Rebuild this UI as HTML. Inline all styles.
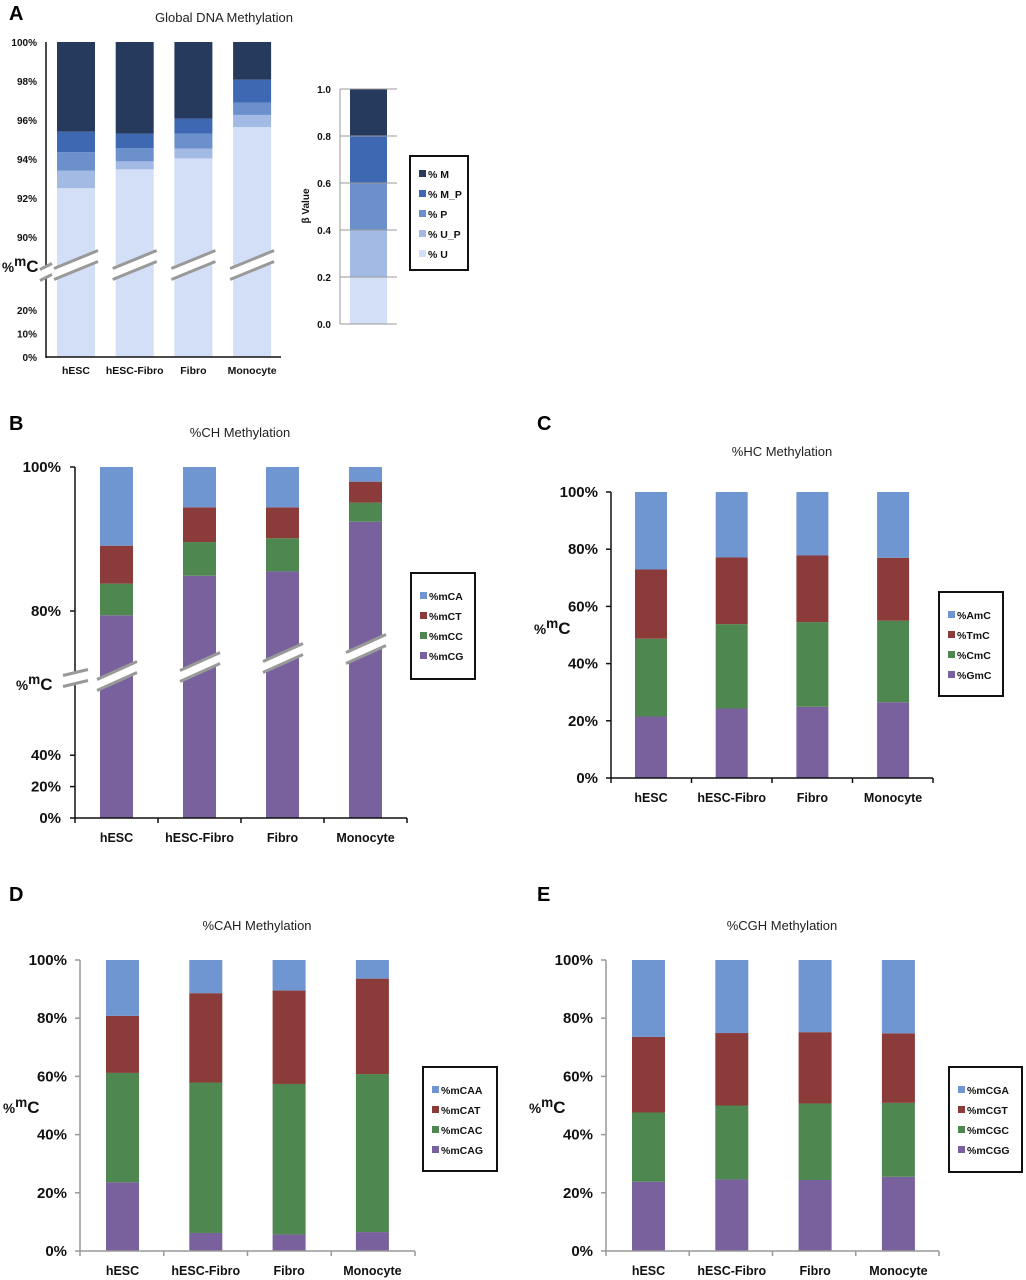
<!DOCTYPE html>
<html><head><meta charset="utf-8"><style>
html,body{margin:0;padding:0;background:#fff;}
svg{display:block;font-family:"Liberation Sans",Arial,sans-serif;}
</style></head><body>
<svg id="fig" width="1026" height="1280" viewBox="0 0 1026 1280" xmlns="http://www.w3.org/2000/svg"></svg>
<script>
const categories = ["hESC","hESC-Fibro","Fibro","Monocyte"];
// Panel A segments (bottom-up)
const aU  = [92.5, 93.47, 94.03, 95.64];
const aUP = [0.9, 0.41, 0.5, 0.62];
const aP  = [0.95, 0.68, 0.77, 0.64];
const aMP = [1.05, 0.74, 0.77, 1.17];
const aM  = [4.6, 4.7, 3.93, 1.93];
const aTicksUpper = [100,98,96,94,92,90];
const aTicksLower = [20,10,0];
const betaSegs = [0.2,0.2,0.2,0.2,0.2];
const betaTicks = [0,0.2,0.4,0.6,0.8,1.0];
// Panel B
const bCG = [79.4, 84.9, 85.5, 92.4];
const bCC = [4.4, 4.68, 4.6, 2.65];
const bCT = [5.27, 4.82, 4.3, 2.91];
const bCA = [10.93, 5.6, 5.6, 2.04];
const bTicksUpper = [100,80];
const bTicksLower = [40,20,0];
// Panel C
const cGmC = [21.5, 24.3, 24.9, 26.5];
const cCmC = [27.2, 29.5, 29.6, 28.5];
const cTmC = [24.2, 23.3, 23.3, 22.0];
const cAmC = [27.1, 22.9, 22.2, 23.0];
// Panel D
const dCAG = [23.6, 6.2, 5.7, 6.5];
const dCAC = [37.6, 51.7, 51.7, 54.3];
const dCAT = [19.6, 30.7, 32.1, 32.8];
const dCAA = [19.2, 11.4, 10.5, 6.4];
// Panel E
const eCGG = [23.8, 24.6, 24.4, 25.5];
const eCGC = [23.8, 25.4, 26.3, 25.4];
const eCGT = [26.0, 24.9, 24.5, 23.9];
const eCGA = [26.4, 25.1, 24.8, 25.2];
const pctTicks = [0,20,40,60,80,100];

const NS="http://www.w3.org/2000/svg";
const svg=document.getElementById('fig');
function mk(tag,attrs,parent){const e=document.createElementNS(NS,tag);for(const k in attrs)e.setAttribute(k,attrs[k]);(parent||svg).appendChild(e);return e;}
function txt(s,attrs,parent){const e=mk('text',attrs,parent);e.textContent=s;return e;}

const COL={blue:"#6f96d0",red:"#8b3b3a",green:"#4f8750",purple:"#78619d",
 M:"#263a5e",MP:"#3e68b1",P:"#6b90cc",UP:"#a3bae5",U:"#d3dff6"};

function drawStack(g,series,colors,names,yf,barX,w){
  for(let i=0;i<categories.length;i++){
    let cum=0;
    for(let s=0;s<series.length;s++){
      const v=series[s][i];
      const y1=yf(cum+v), y0=yf(cum);
      const r=mk('rect',{x:barX(i),y:y1,width:w,height:Math.max(0,y0-y1),fill:colors[s]},g);
      
      
      cum+=v;
    }
  }
}
function yLabel(g,x,y,size){
  const t=mk('text',{x:x,y:y,'font-size':size,'font-weight':'bold',fill:'#111'},g);
  
  
  const a=mk('tspan',{'font-size':size*0.8},t);a.textContent='%';
  const b=mk('tspan',{'font-size':size*0.8,dy:-size*0.35},t);b.textContent='m';
  const c=mk('tspan',{dy:size*0.35},t);c.textContent='C';
}
function legend(g,x,y,w,h,labels,colors,ys,fs){
  const r=mk('rect',{x:x,y:y,width:w,height:h,fill:'#fff',stroke:'#111','stroke-width':2},g);
  
  
  labels.forEach((l,k)=>{
    const sq=mk('rect',{x:x+9,y:ys[k]-4,width:7,height:7,fill:colors[k]},g);
    
    
    const t=txt(l,{x:x+18,y:ys[k]+4,'font-size':fs,'font-weight':'bold',fill:'#111'},g);
    
    
  });
}
function catLabels(g,barX,w,y,fs){
  categories.forEach((c,i)=>{
    const t=txt(c,{x:barX(i)+w/2,y:y,'font-size':fs,'font-weight':'bold','text-anchor':'middle',fill:'#111'},g);
    
    
  });
}
function breakMark(g,x1,x2,yc,slope){
  const d=5.5;
  mk('polygon',{points:`${x1},${yc+slope/2-d} ${x2},${yc-slope/2-d} ${x2},${yc-slope/2+d} ${x1},${yc+slope/2+d}`,fill:'#fff'},g);
  mk('line',{x1:x1,y1:yc+slope/2-d,x2:x2,y2:yc-slope/2-d,stroke:'#999','stroke-width':3},g);
  const l=mk('line',{x1:x1,y1:yc+slope/2+d,x2:x2,y2:yc-slope/2+d,stroke:'#999','stroke-width':3},g);
  
  
}
function panelTitle(g,letter,lx,ly,title,tx,ty){
  const L=txt(letter,{x:lx,y:ly,'font-size':20,'font-weight':'bold',fill:'#000'},g);
  
  
  const T=txt(title,{x:tx,y:ty,'font-size':13,'text-anchor':'middle',fill:'#222'},g);
  
  
}

// ---------- Panel A ----------
(function(){
  const g=mk('g',{});
  
  
  panelTitle(g,'A',9,20,'Global DNA Methylation',224,22);
  const yA=v=> v>=90 ? 42+(100-v)*19.5 : 357-v*2.35;
  const barX=i=>57+i*58.7, w=38;
  drawStack(g,[aU,aUP,aP,aMP,aM],[COL.U,COL.UP,COL.P,COL.MP,COL.M],['u','u-p','p','m-p','m'],yA,barX,w);
  for(let i=0;i<4;i++) breakMark(g,barX(i)-3,barX(i)+w+3,265,18);
  mk('line',{x1:46,y1:42,x2:46,y2:358,stroke:'#111','stroke-width':1.5},g);
  mk('line',{x1:46,y1:357,x2:281,y2:357,stroke:'#111','stroke-width':1.5},g);
  breakMark(g,40,52,272,6);
  aTicksUpper.concat(aTicksLower).forEach(v=>{
    const t=txt(v+'%',{x:37,y:yA(v)+4,'font-size':10,'font-weight':'bold','text-anchor':'end',fill:'#111'},g);
    
    
  });
  yLabel(g,2,272,17);
  catLabels(g,barX,w,374,10.5);
  const yB=v=>324-v*235;
  mk('line',{x1:340,y1:89,x2:340,y2:324,stroke:'#999','stroke-width':1},g);
  let cum=0;const bc=[COL.U,COL.UP,COL.P,COL.MP,COL.M];
  betaSegs.forEach((v,k)=>{
    const r=mk('rect',{x:350,y:yB(cum+v),width:37,height:yB(cum)-yB(cum+v),fill:bc[k]},g);
    
    
    cum+=v;
  });
  betaTicks.forEach(v=>{
    mk('line',{x1:340,y1:yB(v),x2:397,y2:yB(v),stroke:'#999','stroke-width':1},g);
    const t=txt(v.toFixed(1),{x:331,y:yB(v)+4,'font-size':10,'font-weight':'bold','text-anchor':'end',fill:'#111'},g);
    
    
  });
  const bt=txt('β Value',{x:0,y:0,'font-size':10,'font-weight':'bold','text-anchor':'middle',fill:'#111',transform:'translate(309,206) rotate(-90)'},g);
  
  
  legend(g,410,156,58,114,['% M','% M_P','% P','% U_P','% U'],[COL.M,COL.MP,COL.P,COL.UP,COL.U],[174,194,214,234,254],10.5);
})();

// ---------- Panel B ----------
(function(){
  const g=mk('g',{});
  
  
  panelTitle(g,'B',9,430,'%CH Methylation',240,437);
  const yf=v=> v>=70 ? 467+(100-v)*7.2 : 818-v*1.57;
  const barX=i=>100+i*83, w=33;
  drawStack(g,[bCG,bCC,bCT,bCA],[COL.purple,COL.green,COL.red,COL.blue],['mcg','mcc','mct','mca'],yf,barX,w);
  for(let i=0;i<4;i++) breakMark(g,barX(i)-3,barX(i)+w+4,676-i*9,18);
  mk('line',{x1:75,y1:467,x2:75,y2:818,stroke:'#111','stroke-width':1.5},g);
  mk('line',{x1:75,y1:818,x2:407,y2:818,stroke:'#111','stroke-width':1.5},g);
  for(let k=0;k<5;k++) mk('line',{x1:75+k*83,y1:818,x2:75+k*83,y2:823,stroke:'#111','stroke-width':1.5},g);
  bTicksUpper.concat(bTicksLower).forEach(v=>{
    mk('line',{x1:70,y1:yf(v),x2:75,y2:yf(v),stroke:'#111','stroke-width':1.5},g);
    const t=txt(v+'%',{x:61,y:yf(v)+5,'font-size':15,'font-weight':'bold','text-anchor':'end',fill:'#111'},g);
    
    
  });
  breakMark(g,63,88,678,6);
  yLabel(g,16,690,17);
  catLabels(g,barX,w,842,12.5);
  legend(g,411,573,64,106,['%mCA','%mCT','%mCC','%mCG'],[COL.blue,COL.red,COL.green,COL.purple],[596,616,636,656],10.5);
})();

function fullPanel(name,letter,lx,ly,title,tx,ty,axisX,y100,y0,barX0,step,w,axisEnd,axisColor,series,names,labels,lg,labY){
  const g=mk('g',{});
  
  
  panelTitle(g,letter,lx,ly,title,tx,ty);
  const yf=v=>y0-(y0-y100)*v/100;
  const barX=i=>barX0+i*step;
  const cols=[COL.purple,COL.green,COL.red,COL.blue];
  drawStack(g,series,cols,names,yf,barX,w);
  mk('line',{x1:axisX,y1:y100,x2:axisX,y2:y0,stroke:axisColor,'stroke-width':1.5},g);
  mk('line',{x1:axisX,y1:y0,x2:axisEnd,y2:y0,stroke:axisColor,'stroke-width':1.5},g);
  const seg=(axisEnd-axisX)/4;
  for(let k=0;k<5;k++) mk('line',{x1:axisX+k*seg,y1:y0,x2:axisX+k*seg,y2:y0+5,stroke:axisColor,'stroke-width':1.5},g);
  pctTicks.forEach(v=>{
    mk('line',{x1:axisX-5,y1:yf(v),x2:axisX,y2:yf(v),stroke:axisColor,'stroke-width':1.5},g);
    const t=txt(v+'%',{x:axisX-13,y:yf(v)+5,'font-size':15,'font-weight':'bold','text-anchor':'end',fill:'#111'},g);
    
    
  });
  yLabel(g,axisX-77,labY,17);
  catLabels(g,barX,w,y0+24,12.5);
  legend(g,lg[0],lg[1],lg[2],lg[3],labels,[COL.blue,COL.red,COL.green,COL.purple],[lg[1]+23,lg[1]+43,lg[1]+63,lg[1]+83],10.5);
}
fullPanel('panel-c','C',537,430,'%HC Methylation',782,456,611,492,778,635,80.7,32,933,'#111',
  [cGmC,cCmC,cTmC,cAmC],['gmc','cmc','tmc','amc'],['%AmC','%TmC','%CmC','%GmC'],[939,592,64,104],634);
fullPanel('panel-d','D',9,901,'%CAH Methylation',257,930,80,960,1251,106,83.3,33,415,'#999',
  [dCAG,dCAC,dCAT,dCAA],['mcag','mcac','mcat','mcaa'],['%mCAA','%mCAT','%mCAC','%mCAG'],[423,1067,74,104],1113);
fullPanel('panel-e','E',537,901,'%CGH Methylation',782,930,606,960,1251,632,83.3,33,939,'#999',
  [eCGG,eCGC,eCGT,eCGA],['mcgg','mcgc','mcgt','mcga'],['%mCGA','%mCGT','%mCGC','%mCGG'],[949,1067,73,105],1113);
</script>
</body></html>
